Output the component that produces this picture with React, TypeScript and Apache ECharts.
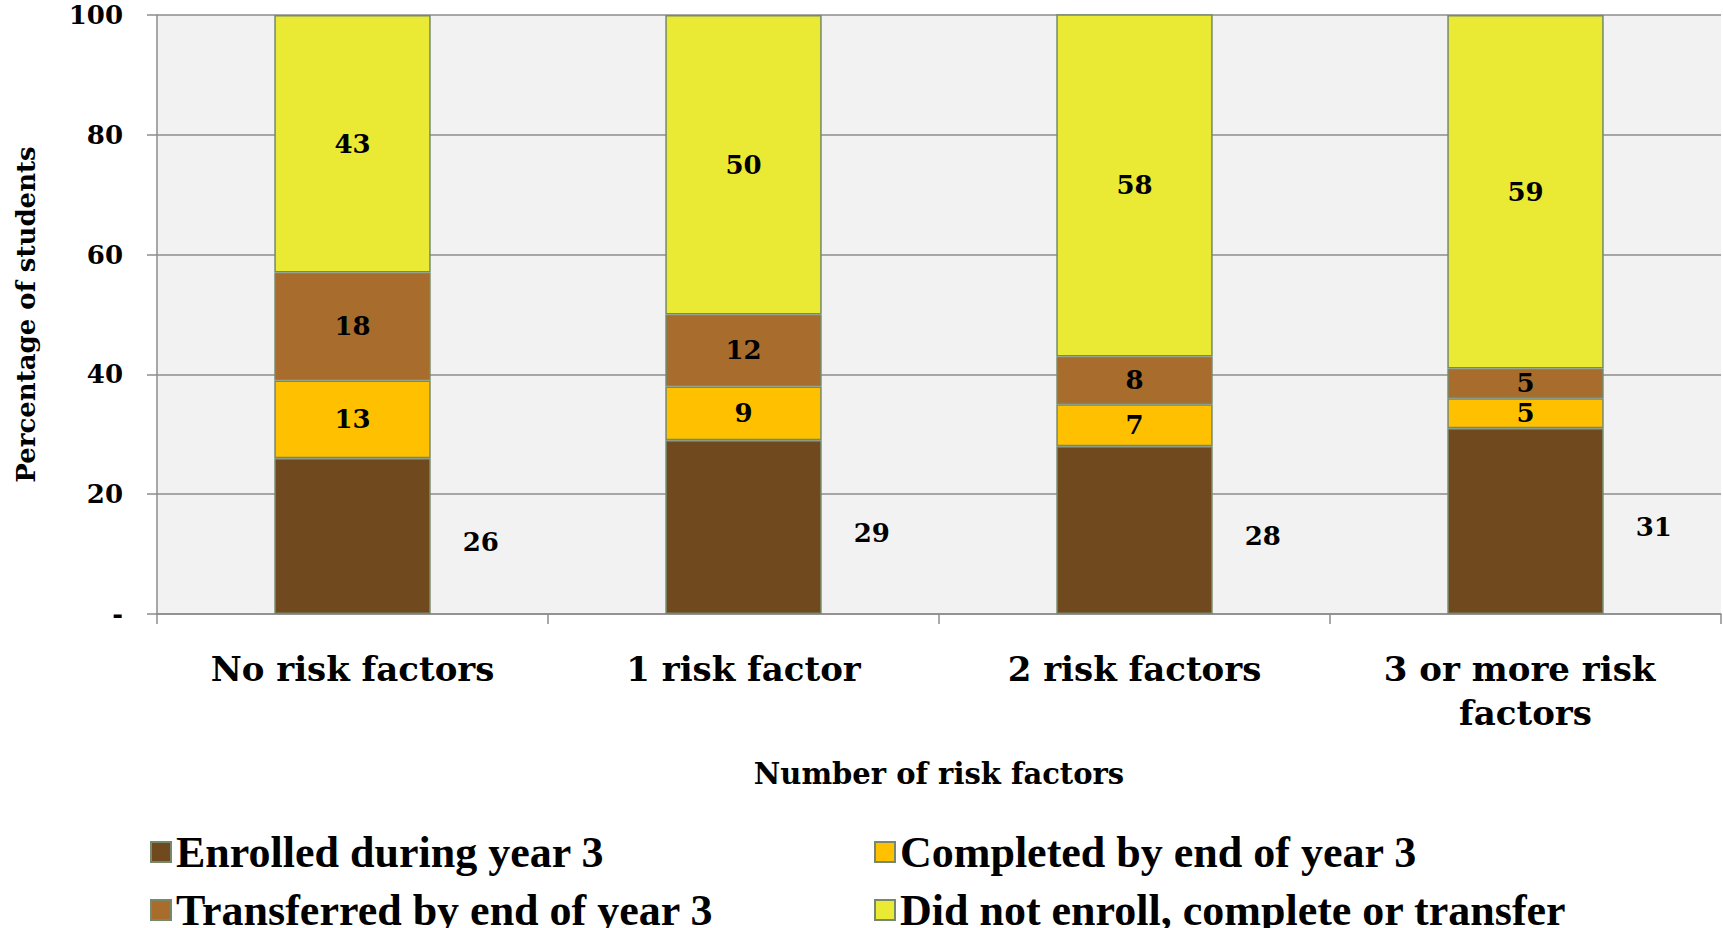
import React, { useEffect, useRef } from "react";
import * as echarts from "echarts";

const categories = ["No risk factors", "1 risk factor", "2 risk factors", "3 or more risk factors"];
const enrolled = [26, 29, 28, 31];
const completed = [13, 9, 7, 5];
const transferred = [18, 12, 8, 5];
const didNot = [43, 50, 58, 59];
const yTicks = [0, 20, 40, 60, 80, 100];
const seriesNames = [
  "Enrolled during year 3",
  "Completed by end of year 3",
  "Transferred by end of year 3",
  "Did not enroll, complete or transfer",
];

const SERIF = "'DejaVu Serif', Georgia, serif";
const BORDER = "#76896A";

export default function App() {
  const ref = useRef<HTMLDivElement>(null);
  useEffect(() => {
    if (!ref.current) return;
    const chart = echarts.init(ref.current, null, { renderer: "svg" });
    const labelStyle = {
      fontFamily: SERIF,
      fontWeight: "bold",
      fontSize: 26,
      color: "#000",
    };
    const mk = (name: string, data: number[], color: string, label: any) => ({
      name,
      type: "bar",
      stack: "s",
      barWidth: "40%",
      data,
      itemStyle: { color, borderColor: BORDER, borderWidth: 1.5 },
      label: { show: true, ...labelStyle, ...label },
    });
    const legendAt = (name: string, left: number, top: number) => ({
      orient: "horizontal",
      left,
      top,
      itemWidth: 20,
      itemHeight: 20,
      icon: "rect",
      data: [name],
      textStyle: {
        fontFamily: "'Liberation Serif', serif",
        fontWeight: "bold",
        fontSize: 44,
        lineHeight: 44,
        color: "#000",
      },
    });
    chart.setOption({
      animation: false,
      backgroundColor: "#fff",
      grid: {
        left: 157,
        right: 2,
        top: 15,
        bottom: 314,
        show: true,
        backgroundColor: "#F2F2F2",
        borderWidth: 0,
      },
      legend: [
        legendAt(seriesNames[0], 145, 825),
        legendAt(seriesNames[1], 869, 825),
        legendAt(seriesNames[2], 145, 883),
        legendAt(seriesNames[3], 869, 883),
      ],
      xAxis: {
        type: "category",
        data: categories,
        name: "Number of risk factors",
        nameLocation: "middle",
        nameGap: 145,
        nameTextStyle: { fontFamily: SERIF, fontWeight: "bold", fontSize: 29, color: "#000" },
        axisLine: { show: true, lineStyle: { color: "#8C8C8C", width: 1.5 } },
        axisTick: { show: true, length: 10, lineStyle: { color: "#8C8C8C", width: 1.5 } },
        axisLabel: {
          interval: 0,
          fontFamily: SERIF,
          fontWeight: "bold",
          fontSize: 34,
          lineHeight: 44,
          color: "#000",
          margin: 33,
          width: 360,
          overflow: "break",
        },
      },
      yAxis: {
        type: "value",
        min: yTicks[0],
        max: yTicks[yTicks.length - 1],
        interval: 20,
        name: "Percentage of students",
        nameLocation: "middle",
        nameGap: 118,
        nameTextStyle: { fontFamily: SERIF, fontWeight: "bold", fontSize: 26, color: "#000" },
        axisLine: { show: true, lineStyle: { color: "#8C8C8C", width: 1.5 } },
        axisTick: { show: true, length: 10, lineStyle: { color: "#8C8C8C", width: 1.5 } },
        splitLine: { show: true, lineStyle: { color: "#8C8C8C", width: 1.5 } },
        axisLabel: {
          fontFamily: SERIF,
          fontWeight: "bold",
          fontSize: 26,
          color: "#000",
          margin: 34,
          formatter: (v: number) => (v === 0 ? "-" : String(v)),
        },
      },
      series: [
        mk(seriesNames[0], enrolled, "#704A1E", { position: "right", distance: 32, offset: [0, 6] }),
        mk(seriesNames[1], completed, "#FFC000", { position: "inside" }),
        mk(seriesNames[2], transferred, "#A86D2D", { position: "inside" }),
        mk(seriesNames[3], didNot, "#EAEA35", { position: "inside" }),
      ],
    });
    return () => chart.dispose();
  }, []);
  return <div ref={ref} style={{ width: 1723, height: 928, position: "absolute", left: 0, top: 0 }} />;
}
